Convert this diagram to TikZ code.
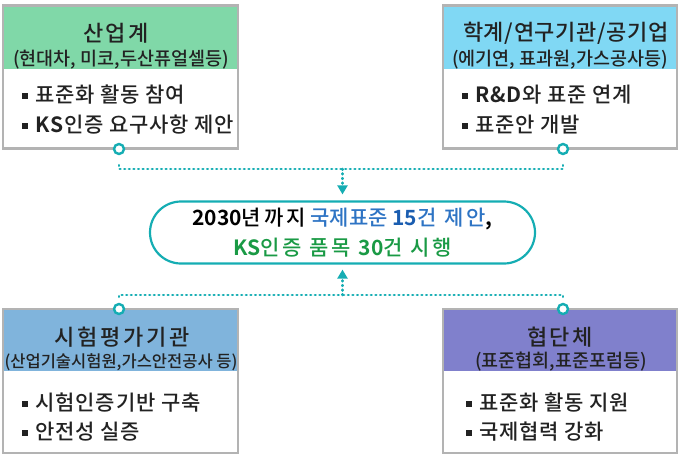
\documentclass[tikz,border=0pt]{standalone}
\usepackage{fontspec}
\setmainfont{Noto Sans CJK KR}[UprightFont={* Medium}, BoldFont={* Bold}]
\usetikzlibrary{arrows.meta}
\definecolor{framegray}{HTML}{B3B3B3}
\definecolor{hdrgreen}{HTML}{80D8A8}
\definecolor{hdrcyan}{HTML}{80D8F4}
\definecolor{hdrsteel}{HTML}{80B4DC}
\definecolor{hdrpurple}{HTML}{8080CC}
\definecolor{teal}{HTML}{15ADB3}
\definecolor{txtblue}{HTML}{2E74C4}
\definecolor{txtdblue}{HTML}{1A5DB0}
\definecolor{txtgreen}{HTML}{1A9A45}
\definecolor{txtdark}{HTML}{222222}
\newcommand{\bul}{\rule[0.2em]{0.28em}{0.28em}\hspace{0.35em}}
\newcommand{\lsp}[1]{{\addfontfeature{LetterSpace=14}#1}}
\begin{document}
\begin{tikzpicture}[x=1pt,y=-1pt,
  frame/.style={draw=framegray, line width=2.5pt, minimum width=235pt, minimum height=#1, inner sep=0pt, outer sep=0pt},
  ttl/.style={text=txtdark, inner sep=0pt, font=\fontsize{22}{26}\selectfont\addfontfeature{LetterSpace=12}},
  sub/.style={text=txtdark, inner sep=0pt, font=\fontsize{18.5}{22}\selectfont},
  item/.style={text=txtdark, inner sep=0pt, anchor=west, font=\fontsize{21}{25}\selectfont\addfontfeature{LetterSpace=4}},
  dotc/.style={circle, draw=teal, fill=white, line width=2.4pt, minimum size=10pt, inner sep=0pt},
  dots/.style={draw=teal, line width=2.8pt, line cap=round, dash pattern=on 0.6pt off 4pt},
  tip/.style={-{Triangle[width=10pt,length=9pt]}}
]
\useasboundingbox (0,0) rectangle (680,455);
% headers
\fill[hdrgreen] (3,5) rectangle (238,69);
\fill[hdrcyan] (443,5) rectangle (677,69);
\fill[hdrsteel] (3,309) rectangle (238,371);
\fill[hdrpurple] (443,309) rectangle (677,371);
% frames
\node[frame=143pt] (b1) at (120.5,77) {};
\node[frame=143pt, minimum width=234pt] (b2) at (560,77) {};
\node[frame=144pt] (b3) at (120.5,381) {};
\node[frame=144pt, minimum width=234pt] (b4) at (560,381) {};
% box 1
\node[ttl] (t1) at (116,33) {산업계};
\node[sub] (s1) at (121,60) {(현대차, 미코,두산퓨얼셀등)};
\node[item] (i11) at (22,95) {\bul 표준화 활동 참여};
\node[item] (i12) at (22,125) {\bul\textbf{KS}인증 요구사항 제안};
% box 2
\node[ttl, font=\fontsize{22}{26}\selectfont\addfontfeature{LetterSpace=3}] (t2) at (566,33) {학계/연구기관/공기업};
\node[sub] (s2) at (560,60) {(에기연, 표과원,가스공사등)};
\node[item] (i21) at (462,95) {\bul\textbf{R\&D}와 표준 연계};
\node[item] (i22) at (462,125) {\bul 표준안 개발};
% box 3
\node[ttl] (t3) at (122,337) {시험평가기관};
\node[sub, font=\fontsize{16.5}{20}\selectfont] (s3) at (121,362) {(산업기술시험원,가스안전공사 등)};
\node[item] (i31) at (22,403) {\bul 시험인증기반 구축};
\node[item] (i32) at (22,432) {\bul 안전성 실증};
% box 4
\node[ttl] (t4) at (560,337) {협단체};
\node[sub] (s4) at (561,362) {(표준협회,표준포럼등)};
\node[item] (i41) at (466,403) {\bul 표준화 활동 지원};
\node[item] (i42) at (466,432) {\bul 국제협력 강화};
% centre
\node[draw=teal, line width=2.2pt, rounded corners=31pt, minimum width=385pt, minimum height=62pt,
      align=center, inner sep=0pt, font=\fontsize{21}{29}\selectfont]
  (ov) at (342.5,232.5)
  {\textbf{2030}\lsp{년까지} \textcolor{txtblue}{국제표준 \textbf{\textcolor{txtdblue}{15}}\lsp{건 제안}}\textbf{,}\\[1pt]
   \textcolor{txtgreen}{\textbf{KS}\lsp{인증 품목} \textbf{30}\lsp{건 시행}}};
% connectors
\node[dotc] (c1) at (119,149) {};
\node[dotc] (c2) at (563,149) {};
\node[dotc] (c3) at (119,309) {};
\node[dotc] (c4) at (563,309) {};
\coordinate (j1) at (342.5,169);
\coordinate (j2) at (342.5,295);
\draw[dots] ([yshift=-10pt]c1.south) |- (j1);
\draw[dots] ([yshift=-10pt]c2.south) |- (j1);
\draw[dots, tip, shorten >=6pt] (j1) -- (ov.north);
\draw[dots] ([yshift=6pt]c3.north) |- (j2);
\draw[dots] ([yshift=6pt]c4.north) |- (j2);
\draw[dots, tip, shorten >=5pt] (j2) -- (ov.south);
\end{tikzpicture}
\end{document}
